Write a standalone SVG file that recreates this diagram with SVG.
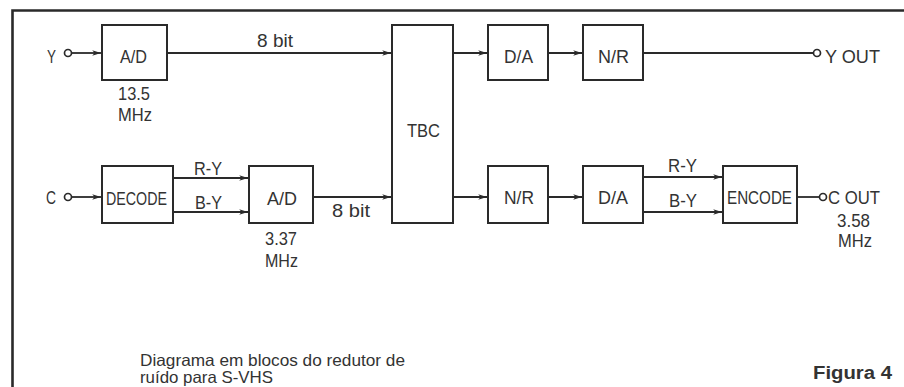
<svg xmlns="http://www.w3.org/2000/svg" width="904" height="387" viewBox="0 0 904 387">
<style>
.frame{fill:none;stroke:#2a2a2a;stroke-width:2.6}
.box{fill:#fff;stroke:#2a2a2a;stroke-width:2}
.ln{fill:none;stroke:#2a2a2a;stroke-width:1.8}
.t{font-family:"Liberation Sans",Arial,sans-serif;font-size:19px;fill:#333}
.cap{font-family:"Liberation Sans","DejaVu Sans",sans-serif;font-size:16.5px;fill:#333}
.fig{font-family:"Liberation Sans","DejaVu Sans",sans-serif;font-size:18px;font-weight:bold;fill:#333}
.term{fill:#fff;stroke:#2a2a2a;stroke-width:1.7}
</style>
<defs>
<marker id="ah" viewBox="0 0 11 10" refX="11" refY="5" markerWidth="11" markerHeight="8" markerUnits="userSpaceOnUse" orient="auto">
<path d="M0,1.5 L11,5 L0,8.5 L3,5 Z" fill="#2a2a2a"/>
</marker>
</defs>
<rect width="904" height="387" fill="#fff"/>
<path class="frame" d="M12.5,387 V10.5 H904"/>

<g id="connectors">
<line class="ln" x1="71.5" y1="53" x2="101" y2="53" marker-end="url(#ah)"/>
<line class="ln" x1="167" y1="53" x2="391" y2="53" marker-end="url(#ah)"/>
<line class="ln" x1="453" y1="53" x2="487" y2="53" marker-end="url(#ah)"/>
<line class="ln" x1="548" y1="53" x2="582" y2="53" marker-end="url(#ah)"/>
<line class="ln" x1="643" y1="53" x2="813.5" y2="53"/>
<line class="ln" x1="71.5" y1="197" x2="101" y2="197" marker-end="url(#ah)"/>
<line class="ln" x1="173" y1="178" x2="248" y2="178" marker-end="url(#ah)"/>
<line class="ln" x1="173" y1="212" x2="248" y2="212" marker-end="url(#ah)"/>
<line class="ln" x1="313" y1="197" x2="391" y2="197" marker-end="url(#ah)"/>
<line class="ln" x1="453" y1="197" x2="487" y2="197" marker-end="url(#ah)"/>
<line class="ln" x1="548" y1="197" x2="582" y2="197" marker-end="url(#ah)"/>
<line class="ln" x1="643" y1="177" x2="722" y2="177" marker-end="url(#ah)"/>
<line class="ln" x1="643" y1="212" x2="722" y2="212" marker-end="url(#ah)"/>
<line class="ln" x1="797" y1="197" x2="819.5" y2="197"/>
<text class="t" x="257" y="47" textLength="36" lengthAdjust="spacingAndGlyphs">8 bit</text>
<text class="t" x="332" y="217" textLength="38" lengthAdjust="spacingAndGlyphs">8 bit</text>
<text class="t" x="194" y="175" textLength="28" lengthAdjust="spacingAndGlyphs">R-Y</text>
<text class="t" x="195" y="209" textLength="27" lengthAdjust="spacingAndGlyphs">B-Y</text>
<text class="t" x="668" y="172" textLength="29" lengthAdjust="spacingAndGlyphs">R-Y</text>
<text class="t" x="669" y="207" textLength="28" lengthAdjust="spacingAndGlyphs">B-Y</text>
</g>

<g id="in-y">
<text class="t" x="47" y="63" textLength="9" lengthAdjust="spacingAndGlyphs">Y</text>
<circle class="term" cx="68" cy="53" r="3.5"/>
</g>
<g id="in-c">
<text class="t" x="46" y="204" textLength="10" lengthAdjust="spacingAndGlyphs">C</text>
<circle class="term" cx="68" cy="197" r="3.5"/>
</g>

<g id="ad-y">
<rect class="box" x="102" y="25" width="65" height="55"/>
<text class="t" x="120" y="63" textLength="27" lengthAdjust="spacingAndGlyphs">A/D</text>
<text class="t" x="118" y="100" textLength="32" lengthAdjust="spacingAndGlyphs">13.5</text>
<text class="t" x="118" y="121" textLength="34" lengthAdjust="spacingAndGlyphs">MHz</text>
</g>

<g id="decode">
<rect class="box" x="102" y="166" width="71" height="57"/>
<text class="t" x="106" y="205" textLength="61" lengthAdjust="spacingAndGlyphs">DECODE</text>
</g>

<g id="ad-c">
<rect class="box" x="249" y="166" width="64" height="57"/>
<text class="t" x="267" y="205" textLength="30" lengthAdjust="spacingAndGlyphs">A/D</text>
<text class="t" x="265" y="245" textLength="32" lengthAdjust="spacingAndGlyphs">3.37</text>
<text class="t" x="265" y="267" textLength="33" lengthAdjust="spacingAndGlyphs">MHz</text>
</g>

<g id="tbc">
<rect class="box" x="392" y="25" width="61" height="198"/>
<text class="t" x="407" y="137" textLength="33" lengthAdjust="spacingAndGlyphs">TBC</text>
</g>

<g id="da-y">
<rect class="box" x="488" y="25" width="60" height="55"/>
<text class="t" x="504" y="63" textLength="29" lengthAdjust="spacingAndGlyphs">D/A</text>
</g>

<g id="nr-y">
<rect class="box" x="583" y="25" width="60" height="55"/>
<text class="t" x="598" y="63" textLength="31" lengthAdjust="spacingAndGlyphs">N/R</text>
</g>

<g id="out-y">
<circle class="term" cx="817" cy="53" r="3.5"/>
<text class="t" x="825" y="63" textLength="55" lengthAdjust="spacingAndGlyphs">Y OUT</text>
</g>

<g id="nr-c">
<rect class="box" x="488" y="166" width="60" height="57"/>
<text class="t" x="504" y="204" textLength="30" lengthAdjust="spacingAndGlyphs">N/R</text>
</g>

<g id="da-c">
<rect class="box" x="583" y="166" width="60" height="57"/>
<text class="t" x="598" y="204" textLength="30" lengthAdjust="spacingAndGlyphs">D/A</text>
</g>

<g id="encode">
<rect class="box" x="723" y="166" width="74" height="57"/>
<text class="t" x="727" y="204" textLength="65" lengthAdjust="spacingAndGlyphs">ENCODE</text>
</g>

<g id="out-c">
<circle class="term" cx="823" cy="197" r="3.5"/>
<text class="t" x="828" y="204" textLength="52" lengthAdjust="spacingAndGlyphs">C OUT</text>
<text class="t" x="837" y="227" textLength="33" lengthAdjust="spacingAndGlyphs">3.58</text>
<text class="t" x="838" y="247" textLength="34" lengthAdjust="spacingAndGlyphs">MHz</text>
</g>

<g id="caption">
<text class="cap" x="140" y="366" textLength="265" lengthAdjust="spacingAndGlyphs">Diagrama em blocos do redutor de</text>
<text class="cap" x="140" y="383" textLength="133" lengthAdjust="spacingAndGlyphs">ruído para S-VHS</text>
<text class="fig" x="813" y="379" textLength="79" lengthAdjust="spacingAndGlyphs">Figura 4</text>
</g>
</svg>
